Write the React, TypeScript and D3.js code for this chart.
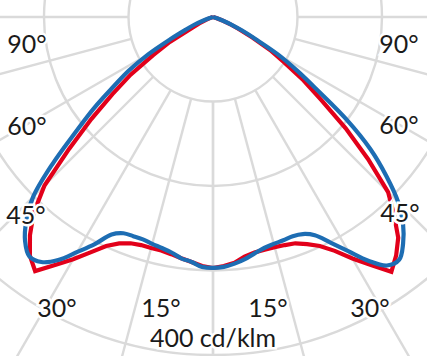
import React, { useRef, useEffect } from 'react';
import * as d3 from 'd3';

// gamma angles (deg from nadir) shared by all curves
const gammas = d3.range(0, 76, 2.5);

// C-planes, intensities in cd/klm
const blueLeft = [297, 296, 291, 288, 283, 280, 278, 276, 276, 277, 284, 303, 321, 341, 354, 357, 346, 327, 301, 258, 213, 178, 144, 118, 89, 57, 36, 24, 12, 5, 0];
const blueRight = [297, 296, 293, 289, 284, 280, 278, 277, 276, 278, 285, 301, 320, 342, 359, 362, 350, 333, 310, 278, 243, 199, 151, 118, 89, 57, 38, 24, 12, 5, 0];
const redLeft = [297, 295, 291, 288, 285, 283, 283, 283, 285, 290, 299, 314, 331, 348, 367, 356, 337, 314, 282, 231, 188, 150, 119, 84, 59, 28, 18, 9, 4, 1, 0];
const redRight = [297, 295, 292, 286, 283, 282, 282, 283, 285, 291, 299, 312, 330, 348, 368, 356, 341, 317, 293, 249, 205, 162, 131, 100, 78, 53, 33, 21, 11, 4, 0];

const rings = [100, 200, 300, 400, 500];
const spokes = d3.range(0, 181, 15);
const angleLabels = ['90°', '60°', '45°', '30°', '15°'];
const unitLabel = '400 cd/klm';

const App = () => {
  const svgRef = useRef(null);

  useEffect(() => {
    draw();
  }, []);

  const draw = () => {
    const svg = d3.select(svgRef.current);
    svg.selectAll('*').remove();

    const cx = 213;
    const cy = 17;
    const r = d3.scaleLinear().domain([0, 400]).range([0, 338]);
    const rad = (deg) => (deg * Math.PI) / 180;

    const g = svg.append('g').attr('transform', `translate(${cx},${cy})`);

    // rings
    g.selectAll('circle.ring')
      .data(rings)
      .enter()
      .append('circle')
      .attr('r', (d) => r(d))
      .attr('fill', 'none')
      .attr('stroke', '#dadada')
      .attr('stroke-width', 2.4);

    // spokes on both sides, starting at the first ring
    [1, -1].forEach((s) => {
      g.selectAll(null)
        .data(spokes)
        .enter()
        .append('line')
        .attr('x1', (d) => s * r(100) * Math.sin(rad(d)))
        .attr('y1', (d) => r(100) * Math.cos(rad(d)))
        .attr('x2', (d) => s * r(600) * Math.sin(rad(d)))
        .attr('y2', (d) => r(600) * Math.cos(rad(d)))
        .attr('stroke', '#dadada')
        .attr('stroke-width', 2.4);
    });

    // left half from 75 deg down to nadir, then the right half back up
    const toPts = (left, right) => {
      const pts = [];
      for (let i = gammas.length - 1; i >= 0; i--) pts.push([Math.PI + rad(gammas[i]), left[i]]);
      for (let i = 1; i < gammas.length; i++) pts.push([Math.PI - rad(gammas[i]), right[i]]);
      return pts;
    };

    const redLine = d3
      .lineRadial()
      .angle((d) => d[0])
      .radius((d) => r(d[1]))
      .curve(d3.curveLinear);

    const blueLine = d3
      .lineRadial()
      .angle((d) => d[0])
      .radius((d) => r(d[1]))
      .curve(d3.curveCatmullRom.alpha(0.5));

    g.append('path')
      .attr('d', redLine(toPts(redLeft, redRight)))
      .attr('fill', 'none')
      .attr('stroke', '#e2001a')
      .attr('stroke-width', 4.2)
      .attr('stroke-linejoin', 'miter');

    g.append('path')
      .attr('d', blueLine(toPts(blueLeft, blueRight)))
      .attr('fill', 'none')
      .attr('stroke', '#1d6db3')
      .attr('stroke-width', 4.2)
      .attr('stroke-linejoin', 'round');

    // angle labels, left and right
    const labelPos = [
      { l: [27, 53], rt: [399, 53] },
      { l: [27, 135], rt: [399, 134] },
      { l: [26, 224], rt: [400, 222] },
      { l: [57, 317], rt: [370, 317] },
      { l: [161, 317], rt: [268, 317] },
    ];

    const txt = (x, y, s) =>
      svg
        .append('text')
        .attr('x', x)
        .attr('y', y)
        .attr('text-anchor', 'middle')
        .style('font-family', 'Lato, sans-serif')
        .style('font-size', '25px')
        .attr('fill', '#1a1a1a')
        .attr('stroke', '#fff')
        .attr('stroke-width', 5)
        .attr('paint-order', 'stroke')
        .text(s);

    angleLabels.forEach((s, i) => {
      txt(labelPos[i].l[0], labelPos[i].l[1], s);
      txt(labelPos[i].rt[0], labelPos[i].rt[1], s);
    });
    txt(213, 347, unitLabel);
  };

  return (
    <svg
      width={427}
      height={356}
      style={{ position: 'absolute', left: 0, top: 0, background: '#fff' }}
    >
      <g ref={svgRef} />
    </svg>
  );
};

export default App;
